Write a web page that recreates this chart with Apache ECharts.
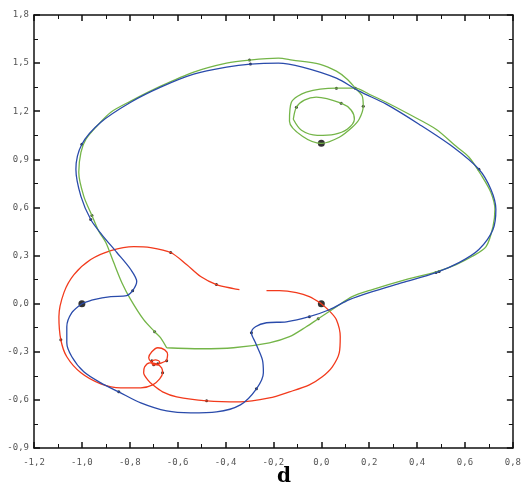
<!DOCTYPE html>
<html>
<head>
<meta charset="utf-8">
<script src="https://cdn.jsdelivr.net/npm/echarts@6/dist/echarts.min.js"></script>
<style>
    html, body { margin: 0; padding: 0; background: #fff; }
    #chart { width: 524px; height: 491px; }
</style>
</head>
<body>
<div id="chart"></div>
<script>
    // tick values
    const xTicks = [-1.2, -1.0, -0.8, -0.6, -0.4, -0.2, 0.0, 0.2, 0.4, 0.6, 0.8]
    const yTicks = [-0.9, -0.6, -0.3, 0.0, 0.3, 0.6, 0.9, 1.2, 1.5, 1.8]

    // blue trajectory, from (-1, 0)
    const bluePath = [
        [-1.000, 0.000], [-0.950, 0.025], [-0.879, 0.044], [-0.813, 0.050], [-0.788, 0.081],
        [-0.771, 0.138], [-0.796, 0.213], [-0.854, 0.319], [-0.917, 0.431], [-0.963, 0.525],
        [-1.004, 0.669], [-1.025, 0.838], [-1.000, 0.994], [-0.921, 1.131], [-0.796, 1.256],
        [-0.671, 1.350], [-0.533, 1.431], [-0.396, 1.475], [-0.296, 1.494], [-0.179, 1.500],
        [-0.079, 1.475], [0.063, 1.406], [0.158, 1.325], [0.271, 1.244], [0.408, 1.119],
        [0.546, 0.981], [0.658, 0.838], [0.708, 0.713], [0.729, 0.588], [0.717, 0.463],
        [0.658, 0.338], [0.575, 0.256], [0.479, 0.194], [0.338, 0.131], [0.200, 0.069],
        [0.117, 0.025], [0.033, -0.038], [-0.050, -0.081], [-0.146, -0.113], [-0.229, -0.119],
        [-0.275, -0.144], [-0.292, -0.181], [-0.275, -0.244], [-0.246, -0.350], [-0.242, -0.431],
        [-0.271, -0.531], [-0.338, -0.631], [-0.438, -0.675], [-0.546, -0.681], [-0.646, -0.669],
        [-0.754, -0.619], [-0.846, -0.550], [-0.921, -0.494], [-0.992, -0.425], [-1.042, -0.331],
        [-1.063, -0.244], [-1.063, -0.144], [-1.042, -0.056], [-1.000, 0.000]
    ]

    // green trajectory (big loop with the small loop near (0, 1))
    const greenPath = [
        [-0.646, -0.275], [-0.671, -0.213], [-0.696, -0.175], [-0.742, -0.100], [-0.796, 0.025],
        [-0.833, 0.131], [-0.867, 0.256], [-0.900, 0.381], [-0.929, 0.450], [-0.958, 0.550],
        [-0.992, 0.669], [-1.013, 0.819], [-1.004, 0.944], [-0.983, 1.025], [-0.938, 1.106],
        [-0.879, 1.194], [-0.796, 1.263], [-0.671, 1.356], [-0.533, 1.444], [-0.396, 1.500],
        [-0.300, 1.519], [-0.179, 1.531], [-0.121, 1.519], [-0.008, 1.494], [0.063, 1.450],
        [0.108, 1.400], [0.142, 1.344], [0.171, 1.294], [0.175, 1.231], [0.158, 1.150],
        [0.129, 1.100], [0.075, 1.038], [0.000, 1.000], [-0.079, 1.044], [-0.133, 1.138],
        [-0.125, 1.256], [-0.063, 1.319], [0.063, 1.344], [0.142, 1.344], [0.200, 1.306],
        [0.271, 1.256], [0.367, 1.181], [0.479, 1.088], [0.563, 0.981], [0.617, 0.913],
        [0.671, 0.794], [0.708, 0.694], [0.725, 0.588], [0.717, 0.481], [0.688, 0.356],
        [0.629, 0.294], [0.563, 0.244], [0.483, 0.200], [0.338, 0.144], [0.213, 0.088],
        [0.129, 0.044], [0.063, -0.019], [-0.013, -0.094], [-0.063, -0.144], [-0.133, -0.206],
        [-0.217, -0.244], [-0.367, -0.275], [-0.504, -0.281], [-0.646, -0.275]
    ]
    const greenInner = [
        [-0.117, 1.150], [-0.104, 1.225], [-0.071, 1.269], [-0.021, 1.288], [0.083, 1.250],
        [0.125, 1.206], [0.138, 1.150], [0.108, 1.088], [0.054, 1.056], [-0.017, 1.050],
        [-0.083, 1.081], [-0.117, 1.150]
    ]

    // red trajectory, from (0, 0)
    const redPath = [
        [0.000, 0.000], [0.033, -0.044], [0.063, -0.100], [0.079, -0.206], [0.075, -0.306],
        [0.046, -0.394], [0.004, -0.456], [-0.050, -0.506], [-0.133, -0.550], [-0.217, -0.588],
        [-0.342, -0.613], [-0.479, -0.606], [-0.604, -0.581], [-0.663, -0.550], [-0.704, -0.506],
        [-0.725, -0.475], [-0.742, -0.431], [-0.738, -0.394], [-0.717, -0.369], [-0.688, -0.375],
        [-0.667, -0.400], [-0.663, -0.431], [-0.675, -0.469], [-0.704, -0.506], [-0.754, -0.525],
        [-0.838, -0.525], [-0.921, -0.500], [-1.004, -0.431], [-1.063, -0.331], [-1.088, -0.225],
        [-1.096, -0.081], [-1.075, 0.069], [-1.033, 0.181], [-0.963, 0.275], [-0.879, 0.331],
        [-0.783, 0.356], [-0.713, 0.350], [-0.629, 0.319], [-0.563, 0.244], [-0.504, 0.169],
        [-0.438, 0.119], [-0.367, 0.094], [-0.342, 0.088], ['-', '-'],
        [-0.229, 0.081], [-0.175, 0.081], [-0.104, 0.069], [-0.050, 0.044], [0.000, 0.000]
    ]
    const redSmall = [
        [-0.646, -0.356], [-0.642, -0.319], [-0.654, -0.288], [-0.683, -0.275], [-0.708, -0.300],
        [-0.721, -0.338], [-0.708, -0.369], [-0.688, -0.381], [-0.667, -0.369], [-0.646, -0.356],
        ['-', '-'],
        [-0.708, -0.356], [-0.692, -0.350], [-0.675, -0.363], [-0.683, -0.381], [-0.704, -0.381],
        [-0.708, -0.356]
    ]

    // marked points
    const smallDots = [
        [-1.000, 0.994], [-0.963, 0.525], [-0.296, 1.494], [0.658, 0.838], [0.479, 0.194],
        [-0.050, -0.081], [-0.788, 0.081], [-0.846, -0.550], [-0.271, -0.531], [-0.292, -0.181],
        [-0.300, 1.519], [-0.958, 0.550], [-0.696, -0.175], [0.063, 1.344], [0.142, 1.344],
        [0.175, 1.231], [-0.104, 1.225], [0.083, 1.250], [0.492, 0.200], [-0.013, -0.094],
        [-0.438, 0.119], [-0.629, 0.319], [-1.088, -0.225], [-0.663, -0.431], [-0.479, -0.606],
        [-0.646, -0.356], [-0.708, -0.356], [-0.700, -0.381], [-0.683, -0.375]
    ]
    const startDots = [[-1.0, 0.0], [0.0, 0.0], [0.0, 1.0]]

    const fmt = (v) => v.toFixed(1).replace('.', ',')
    const labelStyle = {
        fontFamily: 'DejaVu Sans Mono',
        fontSize: 9,
        color: '#555'
    }
    const lineStyleAxis = { color: '#111', width: 1.5 }

    function axisBase(extra) {
        return Object.assign({
            type: 'value',
            axisLine: { show: true, onZero: false, lineStyle: lineStyleAxis },
            axisTick: { show: true, inside: true, length: 6, lineStyle: lineStyleAxis },
            minorTick: { show: true, splitNumber: 2, length: 4, lineStyle: { color: '#111', width: 1 } },
            splitLine: { show: false }
        }, extra)
    }

    function pathSeries(data, color) {
        return {
            type: 'line',
            data: data,
            symbol: 'none',
            smooth: 0.3,
            connectNulls: false,
            lineStyle: { color: color, width: 1.3 },
            silent: true
        }
    }

    let chart = echarts.init(document.getElementById('chart'))
    let options = {
        animation: false,
        backgroundColor: '#fff',
        grid: { left: 34, right: 10, top: 15, bottom: 43 },
        title: {
            text: 'd',
            left: 272,
            top: 462,
            textStyle: { fontFamily: 'DejaVu Serif', fontWeight: 'bold', fontSize: 20, color: '#000' }
        },
        xAxis: [
            axisBase({
                min: xTicks[0], max: xTicks[xTicks.length - 1], interval: 0.2, position: 'bottom',
                axisLabel: Object.assign({ formatter: fmt, margin: 10 }, labelStyle)
            }),
            axisBase({
                min: xTicks[0], max: xTicks[xTicks.length - 1], interval: 0.2, position: 'top',
                axisLabel: { show: false }
            })
        ],
        yAxis: [
            axisBase({
                min: yTicks[0], max: yTicks[yTicks.length - 1], interval: 0.3, position: 'left',
                axisLabel: Object.assign({ formatter: fmt, margin: 5 }, labelStyle)
            }),
            axisBase({
                min: yTicks[0], max: yTicks[yTicks.length - 1], interval: 0.3, position: 'right',
                axisLabel: { show: false }
            })
        ],
        series: [
            pathSeries(redPath, '#f23a1c'),
            pathSeries(redSmall, '#f23a1c'),
            pathSeries(greenPath, '#74b548'),
            pathSeries(greenInner, '#74b548'),
            pathSeries(bluePath, '#2a4bab'),
            {
                type: 'scatter',
                data: smallDots,
                symbolSize: 3,
                itemStyle: { color: '#000' },
                silent: true
            },
            {
                type: 'scatter',
                data: startDots,
                symbolSize: 7,
                itemStyle: { color: '#000' },
                silent: true
            }
        ]
    }
    chart.setOption(options)
</script>
</body>
</html>
